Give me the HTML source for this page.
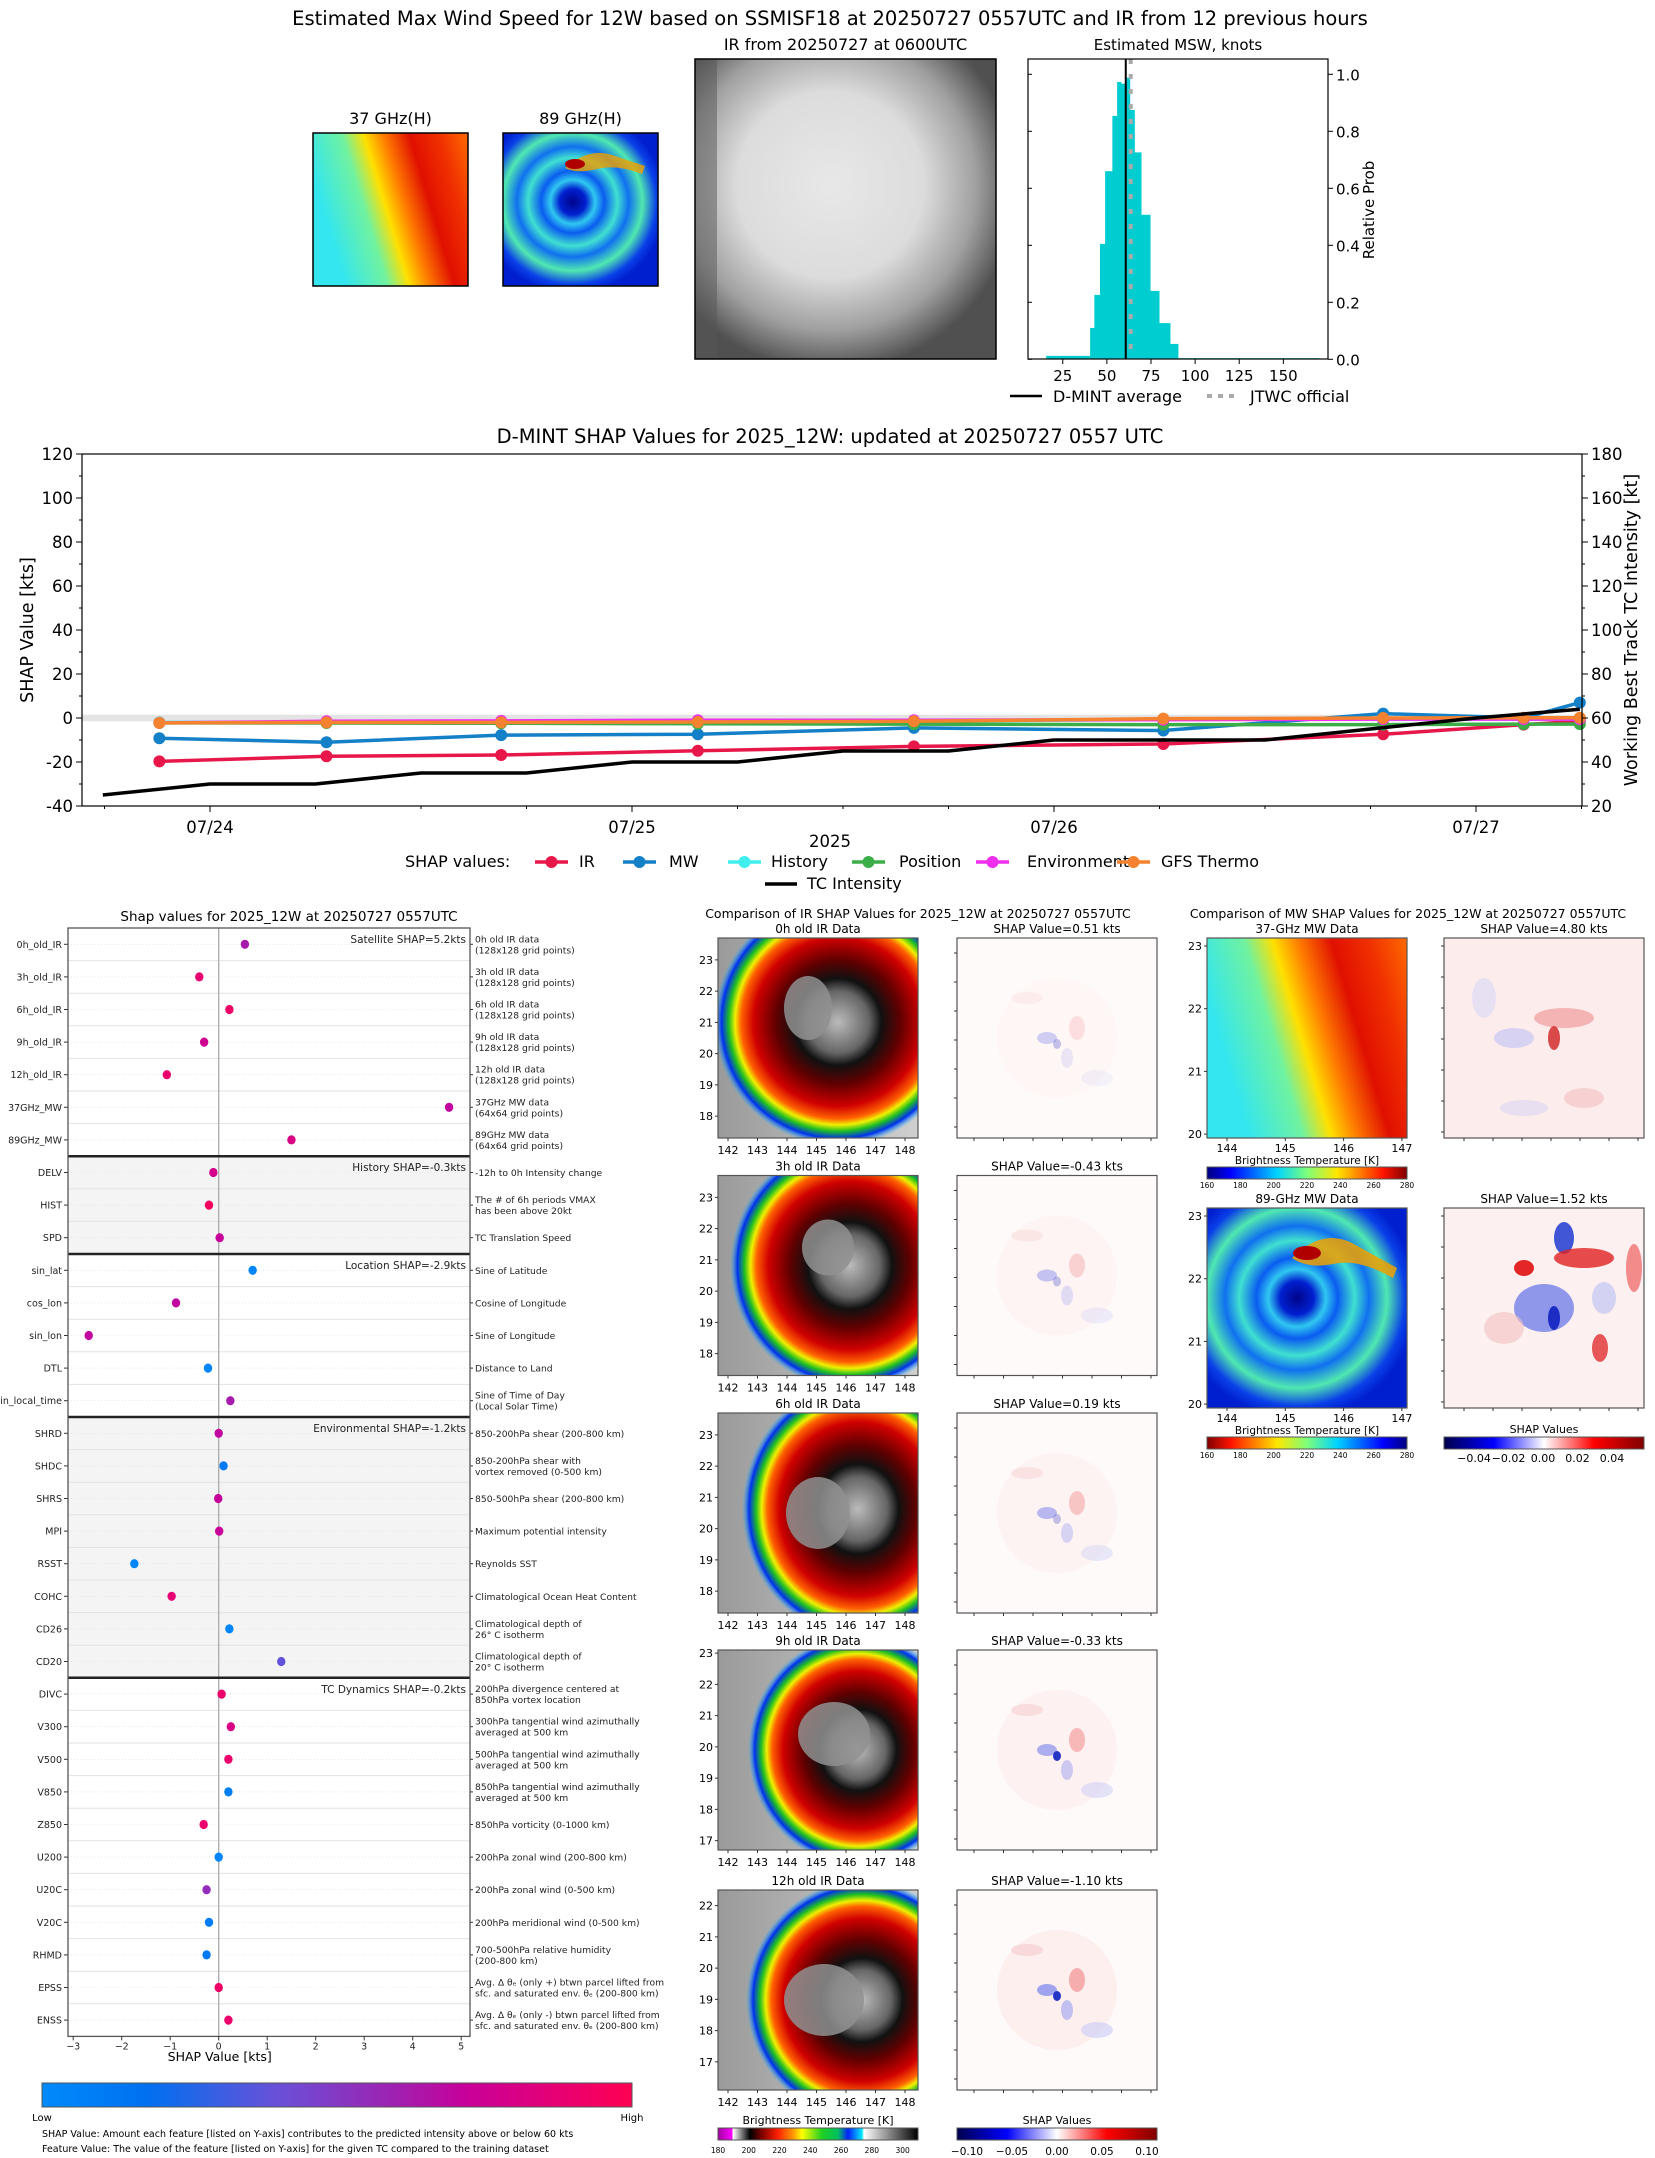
<!DOCTYPE html>
<html><head><meta charset="utf-8">
<style>
html,body{margin:0;padding:0;background:#fff;}
svg{display:block;font-family:"DejaVu Sans","Liberation Sans",sans-serif;}
</style></head>
<body>
<svg id="chart" xmlns="http://www.w3.org/2000/svg" width="1655" height="2158" viewBox="0 0 1655 2158">
<defs>
 <linearGradient id="g37" x1="0" y1="0.3" x2="1" y2="0">
  <stop offset="0" stop-color="#33e6f0"/><stop offset="0.25" stop-color="#70f2a0"/><stop offset="0.38" stop-color="#ffe000"/><stop offset="0.5" stop-color="#ff7a00"/><stop offset="0.65" stop-color="#e01000"/><stop offset="0.82" stop-color="#f03000"/><stop offset="1" stop-color="#ff6a00"/>
 </linearGradient>
 <radialGradient id="g89" cx="0.45" cy="0.45" r="0.6">
  <stop offset="0" stop-color="#00048a"/><stop offset="0.14" stop-color="#0020d0"/><stop offset="0.24" stop-color="#30c8f0"/><stop offset="0.34" stop-color="#0a5cf0"/><stop offset="0.48" stop-color="#40e0d0"/><stop offset="0.6" stop-color="#1070f0"/><stop offset="0.75" stop-color="#50e8b0"/><stop offset="0.9" stop-color="#0a40e8"/><stop offset="1" stop-color="#0020d0"/>
 </radialGradient>
 <radialGradient id="gTopIR" cx="0.45" cy="0.42" r="0.62">
  <stop offset="0" stop-color="#e8e8e8"/><stop offset="0.5" stop-color="#dcdcdc"/><stop offset="0.78" stop-color="#a0a0a0"/><stop offset="1" stop-color="#505050"/>
 </radialGradient>
 <radialGradient id="gIR" cx="0.5" cy="0.5" r="0.5">
  <stop offset="0" stop-color="#bbbbbb"/><stop offset="0.25" stop-color="#666"/><stop offset="0.35" stop-color="#111"/><stop offset="0.5" stop-color="#600000"/><stop offset="0.68" stop-color="#d00000"/><stop offset="0.78" stop-color="#ff6000"/><stop offset="0.83" stop-color="#f0f000"/><stop offset="0.88" stop-color="#20c020"/><stop offset="0.94" stop-color="#0030f0"/><stop offset="1" stop-color="#20c0ff" stop-opacity="0"/>
 </radialGradient>
 <linearGradient id="gGray" x1="0" y1="0" x2="1" y2="0">
  <stop offset="0" stop-color="#9a9a9a"/><stop offset="1" stop-color="#d0d0d0"/>
 </linearGradient>
 <linearGradient id="gJet" x1="0" y1="0" x2="1" y2="0">
  <stop offset="0" stop-color="#00007f"/><stop offset="0.12" stop-color="#0000ff"/><stop offset="0.35" stop-color="#00d4ff"/><stop offset="0.5" stop-color="#7dff7a"/><stop offset="0.65" stop-color="#ffe600"/><stop offset="0.88" stop-color="#ff1300"/><stop offset="1" stop-color="#7f0000"/>
 </linearGradient>
 <linearGradient id="gJetR" x1="1" y1="0" x2="0" y2="0">
  <stop offset="0" stop-color="#00007f"/><stop offset="0.12" stop-color="#0000ff"/><stop offset="0.35" stop-color="#00d4ff"/><stop offset="0.5" stop-color="#7dff7a"/><stop offset="0.65" stop-color="#ffe600"/><stop offset="0.88" stop-color="#ff1300"/><stop offset="1" stop-color="#7f0000"/>
 </linearGradient>
 <linearGradient id="gSeis" x1="0" y1="0" x2="1" y2="0">
  <stop offset="0" stop-color="#00004c"/><stop offset="0.25" stop-color="#0000ff"/><stop offset="0.5" stop-color="#ffffff"/><stop offset="0.75" stop-color="#ff0000"/><stop offset="1" stop-color="#800000"/>
 </linearGradient>
 <linearGradient id="gIRcb" x1="0" y1="0" x2="1" y2="0">
  <stop offset="0" stop-color="#a000a0"/><stop offset="0.07" stop-color="#ff00ff"/><stop offset="0.075" stop-color="#ffffff"/><stop offset="0.16" stop-color="#000"/><stop offset="0.22" stop-color="#800000"/><stop offset="0.3" stop-color="#ff2000"/><stop offset="0.38" stop-color="#ffa000"/><stop offset="0.42" stop-color="#ffff00"/><stop offset="0.52" stop-color="#20d020"/><stop offset="0.6" stop-color="#00c060"/><stop offset="0.65" stop-color="#0020ff"/><stop offset="0.72" stop-color="#00e8ff"/><stop offset="0.73" stop-color="#ffffff"/><stop offset="1" stop-color="#000"/>
 </linearGradient>
 <linearGradient id="gShapCb" x1="0" y1="0" x2="1" y2="0">
  <stop offset="0" stop-color="#008afb"/><stop offset="0.18" stop-color="#0070f0"/><stop offset="0.4" stop-color="#6a50d8"/><stop offset="0.6" stop-color="#a020b0"/><stop offset="0.72" stop-color="#c8009a"/><stop offset="1" stop-color="#ff0052"/>
 </linearGradient>
</defs>
</svg>
<script>
// ---------- data: top histogram ----------
const histEdges=[15.6,40.5,42.9,46.1,49,53.1,55.8,58,60.7,63,65.6,69.4,74.5,79.6,85.8,90.3,170.2];
const histProbs=[0.012,0.11,0.226,0.405,0.66,0.854,0.973,0.967,0.988,0.875,0.726,0.507,0.24,0.127,0.054,0.004];
const dmintAvg=60.7;
const jtwcOfficial=63.5;
const histXTicks=[25,50,75,100,125,150];
const histYTicks=[0,0.2,0.4,0.6,0.8,1.0];
// ---------- data: SHAP time series ----------
const tsDays=[-0.12,0.276,0.69,1.156,1.668,2.259,2.78,3.113,3.246];
const irVals=[-19.7,-17.4,-16.8,-14.9,-12.9,-11.8,-7.4,-3.0,-1.5];
const mwVals=[-9.2,-11,-7.8,-7.4,-4.5,-5.7,2,0,7];
const historyVals=[-2,-2,-2,-2,-1.5,-0.6,-0.5,-0.5,-0.5];
const positionVals=[-2.2,-2.3,-2.4,-2.6,-2.8,-3,-3,-2.8,-2.8];
const environmentVals=[-2.2,-1.5,-1.3,-1,-1,-0.8,-0.5,-0.5,-0.5];
const gfsVals=[-2.2,-2,-2,-1.8,-1.5,-0.3,0,0.1,0.1];
const tcDays=[-0.254,0,0.25,0.5,0.75,1,1.25,1.5,1.75,2,2.25,2.5,2.75,3,3.246];
const tcVals=[25,30,30,35,35,40,40,45,45,50,50,50,55,60,64];
const leftTicks=[-40,-20,0,20,40,60,80,100,120];
const rightTicks=[20,40,60,80,100,120,140,160,180];
const dateLabels=['07/24','07/25','07/26','07/27'];
// ---------- data: SHAP beeswarm ----------
const featNames=['0h_old_IR','3h_old_IR','6h_old_IR','9h_old_IR','12h_old_IR','37GHz_MW','89GHz_MW','DELV','HIST','SPD','sin_lat','cos_lon','sin_lon','DTL','sin_local_time','SHRD','SHDC','SHRS','MPI','RSST','COHC','CD26','CD20','DIVC','V300','V500','V850','Z850','U200','U20C','V20C','RHMD','EPSS','ENSS'];
const featShap=[0.54,-0.4,0.22,-0.3,-1.07,4.75,1.5,-0.11,-0.2,0.02,0.7,-0.88,-2.68,-0.22,0.24,0,0.1,-0.01,0.01,-1.74,-0.97,0.22,1.29,0.06,0.25,0.2,0.2,-0.31,0,-0.25,-0.2,-0.25,0,0.2];
const featValue=[0.62,0.88,0.92,0.75,0.9,0.7,0.8,0.78,0.95,0.72,0.03,0.7,0.7,0.03,0.62,0.7,0.12,0.72,0.72,0.03,0.88,0.03,0.38,0.9,0.8,0.9,0.08,0.9,0.03,0.55,0.1,0.12,0.92,0.9];
const featDesc=['0h old IR data\n(128x128 grid points)','3h old IR data\n(128x128 grid points)','6h old IR data\n(128x128 grid points)','9h old IR data\n(128x128 grid points)','12h old IR data\n(128x128 grid points)','37GHz MW data\n(64x64 grid points)','89GHz MW data\n(64x64 grid points)','-12h to 0h Intensity change','The # of 6h periods VMAX\nhas been above 20kt','TC Translation Speed','Sine of Latitude','Cosine of Longitude','Sine of Longitude','Distance to Land','Sine of Time of Day\n(Local Solar Time)','850-200hPa shear (200-800 km)','850-200hPa shear with\nvortex removed (0-500 km)','850-500hPa shear (200-800 km)','Maximum potential intensity','Reynolds SST','Climatological Ocean Heat Content','Climatological depth of\n26° C isotherm','Climatological depth of\n20° C isotherm','200hPa divergence centered at\n850hPa vortex location','300hPa tangential wind azimuthally\naveraged at 500 km','500hPa tangential wind azimuthally\naveraged at 500 km','850hPa tangential wind azimuthally\naveraged at 500 km','850hPa vorticity (0-1000 km)','200hPa zonal wind (200-800 km)','200hPa zonal wind (0-500 km)','200hPa meridional wind (0-500 km)','700-500hPa relative humidity\n(200-800 km)','Avg. Δ θₑ (only +) btwn parcel lifted from\nsfc. and saturated env. θₑ (200-800 km)','Avg. Δ θₑ (only -) btwn parcel lifted from\nsfc. and saturated env. θₑ (200-800 km)'];
const groupLabels=['Satellite SHAP=5.2kts','History SHAP=-0.3kts','Location SHAP=-2.9kts','Environmental SHAP=-1.2kts','TC Dynamics SHAP=-0.2kts'];
const groupStarts=[0,7,10,15,23];
const beeXTicks=[-3,-2,-1,0,1,2,3,4,5];
// ---------- data: image panels ----------
const irTitles=['0h old IR Data','3h old IR Data','6h old IR Data','9h old IR Data','12h old IR Data'];
const irShapTitles=['SHAP Value=0.51 kts','SHAP Value=-0.43 kts','SHAP Value=0.19 kts','SHAP Value=-0.33 kts','SHAP Value=-1.10 kts'];
const irLatTop=[23.7,23.7,23.7,23.1,22.5];
const irLatBottom=[17.3,17.3,17.3,16.7,16.1];
const irLatTicks=[[18,19,20,21,22,23],[18,19,20,21,22,23],[18,19,20,21,22,23],[17,18,19,20,21,22,23],[17,18,19,20,21,22]];
const irLonTicks=[142,143,144,145,146,147,148];
const mwTitles=['37-GHz MW Data','89-GHz MW Data'];
const mwShapTitles=['SHAP Value=4.80 kts','SHAP Value=1.52 kts'];
const mwLatTicks=[20,21,22,23];
const mwLonTicks=[144,145,146,147];
const btTicks=[160,180,200,220,240,260,280];
const irBtTicks=[180,200,220,240,260,280,300];
const shapMwTicks=['−0.04','−0.02','0.00','0.02','0.04'];
const shapIrTicks=['−0.10','−0.05','0.00','0.05','0.10'];

const NS='http://www.w3.org/2000/svg';
const svg=document.getElementById('chart');
function mk(tag,attrs,parent){const e=document.createElementNS(NS,tag);for(const k in attrs)e.setAttribute(k,attrs[k]);(parent||svg).appendChild(e);return e;}
function txt(s,attrs,parent){const e=mk('text',attrs,parent);e.textContent=s;return e;}
function grp(parent){return mk('g',{},parent);}

// ===== Main title =====
let t=txt('Estimated Max Wind Speed for 12W based on SSMISF18 at 20250727 0557UTC and IR from 12 previous hours',{x:830,y:25,'font-size':19.5,'text-anchor':'middle',fill:'#000'});



// ===== Top small panels =====
function topPanel(x,y,w,h,fill,title,name){
  const g=grp();
  
  
  txt(title,{x:x+w/2,y:y-9,'font-size':16,'text-anchor':'middle'},g);
  mk('rect',{x:x,y:y,width:w,height:h,fill:fill},g);
  return g;
}
let g37=topPanel(313,133,155,153,'url(#g37)','37 GHz(H)','panel-37ghz');
mk('rect',{x:313,y:133,width:155,height:153,fill:'none',stroke:'#000','stroke-width':1.5},g37);
let g89=topPanel(503,133,155,153,'url(#g89)','89 GHz(H)','panel-89ghz');
mk('path',{d:'M 565 168 q 25 -22 50 -12 l 30 10 l -3 8 q -25 -10 -45 -5 q -20 5 -32 -1 z',fill:'#f0a000',opacity:0.8},g89);
mk('ellipse',{cx:575,cy:164,rx:10,ry:5,fill:'#b00000'},g89);
mk('rect',{x:503,y:133,width:155,height:153,fill:'none',stroke:'#000','stroke-width':1.5},g89);
let gTop=topPanel(695,59,301,300,'url(#gTopIR)','IR from 20250727 at 0600UTC','panel-ir-current');
mk('rect',{x:695,y:59,width:22,height:300,fill:'#555',opacity:0.5},gTop);
mk('rect',{x:695,y:59,width:301,height:300,fill:'none',stroke:'#000','stroke-width':1.5},gTop);

// ===== Histogram =====
(function(){
  const L=1028,R=1328,T=59,B=359,xmin=5.3,xmax=175.3;
  const xs=k=>L+(k-xmin)/(xmax-xmin)*(R-L);
  const ys=p=>359.3-p*(359.3-74.3);
  const g=grp();
  
  
  txt('Estimated MSW, knots',{x:(L+R)/2,y:50,'font-size':15,'text-anchor':'middle'},g);
  for(let i=0;i<histProbs.length;i++){
    const b=mk('rect',{x:xs(histEdges[i]),y:ys(histProbs[i]),width:xs(histEdges[i+1])-xs(histEdges[i])+0.4,height:ys(0)-ys(histProbs[i]),fill:'#00cdd0'},g);
    
    
  }
  let l=mk('line',{x1:xs(dmintAvg),x2:xs(dmintAvg),y1:T,y2:B,stroke:'#000','stroke-width':2},g);
  
  
  l=mk('line',{x1:xs(jtwcOfficial),x2:xs(jtwcOfficial),y1:T,y2:B,stroke:'#aaa','stroke-width':4,'stroke-dasharray':'5 10'},g);
  
  
  mk('rect',{x:L,y:T,width:R-L,height:B-T,fill:'none',stroke:'#000','stroke-width':1.2},g);
  histXTicks.forEach(v=>{mk('line',{x1:xs(v),x2:xs(v),y1:B,y2:B+5,stroke:'#000'},g);txt(v,{x:xs(v),y:B+22,'font-size':15,'text-anchor':'middle'},g);});
  histYTicks.forEach(v=>{mk('line',{x1:R,x2:R+5,y1:ys(v),y2:ys(v),stroke:'#000'},g);mk('line',{x1:L,x2:L+4,y1:ys(v),y2:ys(v),stroke:'#000'},g);txt(v.toFixed(1),{x:R+8,y:ys(v)+6,'font-size':15},g);});
  txt('Relative Prob',{x:0,y:0,'font-size':15,'text-anchor':'middle',transform:'translate(1374 210) rotate(-90)'},g);
  const lg=grp(g);
  
  
  mk('line',{x1:1010,x2:1042,y1:396,y2:396,stroke:'#000','stroke-width':2.5},lg);
  txt('D-MINT average',{x:1053,y:402,'font-size':16},lg);
  mk('line',{x1:1207,x2:1239,y1:396,y2:396,stroke:'#aaa','stroke-width':4,'stroke-dasharray':'5 6'},lg);
  txt('JTWC official',{x:1250,y:402,'font-size':16},lg);
})();

// ===== SHAP time series =====
(function(){
  const L=82,R=1582,T=454,B=806;
  const xs=d=>210+d*422;
  const yl=v=>B-(v+40)/160*(B-T);
  const yr=k=>B-(k-20)/160*(B-T);
  const g=grp();
  
  
  txt('D-MINT SHAP Values for 2025_12W: updated at 20250727 0557 UTC',{x:830,y:443,'font-size':19.5,'text-anchor':'middle'},g);
  const band=mk('rect',{x:L,y:yl(1.5),width:R-L,height:yl(-1.5)-yl(1.5),fill:'#e4e4e4'},g);
  
  
  const series=[[irVals,'#e8174a','IR'],[mwVals,'#1380c8','MW'],[historyVals,'#40eeee','History'],[positionVals,'#3cae48','Position'],[environmentVals,'#ee30ee','Environment'],[gfsVals,'#f5822e','GFS Thermo']];
  series.forEach(s=>{
    const sg=grp(g);
    
    
    mk('polyline',{points:tsDays.map((d,i)=>xs(d)+','+yl(s[0][i])).join(' '),fill:'none',stroke:s[1],'stroke-width':3.5,'stroke-linejoin':'round'},sg);
    tsDays.forEach((d,i)=>{const c=mk('circle',{cx:xs(d),cy:yl(s[0][i]),r:6,fill:s[1]},sg);});
  });
  const tc=mk('polyline',{points:tcDays.map((d,i)=>xs(d)+','+yr(tcVals[i])).join(' '),fill:'none',stroke:'#000','stroke-width':3.5},g);
  
  
  mk('rect',{x:L,y:T,width:R-L,height:B-T,fill:'none',stroke:'#000','stroke-width':1.2},g);
  leftTicks.forEach(v=>{mk('line',{x1:L-6,x2:L,y1:yl(v),y2:yl(v),stroke:'#000'},g);txt(v,{x:L-9,y:yl(v)+6,'font-size':16.5,'text-anchor':'end'},g);});
  for(let v=-30;v<=110;v+=20)mk('line',{x1:L-3,x2:L,y1:yl(v),y2:yl(v),stroke:'#000'},g);
  rightTicks.forEach(v=>{mk('line',{x1:R,x2:R+6,y1:yr(v),y2:yr(v),stroke:'#000'},g);txt(v,{x:R+9,y:yr(v)+6,'font-size':16.5},g);});
  for(let v=30;v<=170;v+=20)mk('line',{x1:R,x2:R+3,y1:yr(v),y2:yr(v),stroke:'#000'},g);
  dateLabels.forEach((s,i)=>{mk('line',{x1:xs(i),x2:xs(i),y1:B,y2:B+6,stroke:'#000'},g);txt(s,{x:xs(i),y:B+27,'font-size':16.5,'text-anchor':'middle'},g);});
  for(let d=-0.25;d<3.3;d+=0.25)if(xs(d)>L&&xs(d)<R)mk('line',{x1:xs(d),x2:xs(d),y1:B,y2:B+3,stroke:'#000'},g);
  txt('2025',{x:830,y:847,'font-size':16.5,'text-anchor':'middle'},g);
  txt('SHAP Value [kts]',{x:0,y:0,'font-size':17.5,'text-anchor':'middle',transform:'translate(33 630) rotate(-90)'},g);
  txt('Working Best Track TC Intensity [kt]',{x:0,y:0,'font-size':17.5,'text-anchor':'middle',transform:'translate(1637 630) rotate(-90)'},g);
  const lg=grp(g);
  
  
  txt('SHAP values:',{x:405,y:867,'font-size':16},lg);
  const lx=[[535,579],[623,669],[728,771],[852,899],[976,1027],[1117,1161]];
  series.forEach((s,i)=>{
    mk('line',{x1:lx[i][0],x2:lx[i][0]+33,y1:862,y2:862,stroke:s[1],'stroke-width':3.5},lg);
    mk('circle',{cx:lx[i][0]+16.5,cy:862,r:6,fill:s[1]},lg);
    txt(s[2],{x:lx[i][1],y:867,'font-size':16},lg);
  });
  mk('line',{x1:765,x2:797,y1:884,y2:884,stroke:'#000','stroke-width':3.5},lg);
  txt('TC Intensity',{x:807,y:889,'font-size':16},lg);
})();

// ===== SHAP beeswarm =====
(function(){
  const L=68,R=470,T=928,rowH=32.6,B=T+rowH*featNames.length;
  const xs=v=>218.7+v*48.5;
  const yc=i=>T+rowH*(i+0.5);
  const g=grp();
  
  
  txt('Shap values for 2025_12W at 20250727 0557UTC',{x:(L+R)/2+20,y:921,'font-size':13.5,'text-anchor':'middle'},g);
  groupStarts.forEach((s,gi)=>{
    const e=gi+1<groupStarts.length?groupStarts[gi+1]:featNames.length;
    if(gi%2===1)mk('rect',{x:L,y:T+s*rowH,width:R-L,height:(e-s)*rowH,fill:'#f4f4f4'},g);
    const gl=txt(groupLabels[gi],{x:R-4,y:T+s*rowH+15,'font-size':10.5,'text-anchor':'end',fill:'#222'},g);
    
    
  });
  for(let i=1;i<featNames.length;i++)mk('line',{x1:L,x2:R,y1:T+i*rowH,y2:T+i*rowH,stroke:'#e2e2e2','stroke-width':1},g);
  featNames.forEach((n,i)=>mk('line',{x1:L,x2:R,y1:yc(i),y2:yc(i),stroke:'#ddd','stroke-width':0.6,'stroke-dasharray':'1 2'},g));
  mk('line',{x1:xs(0),x2:xs(0),y1:T,y2:B,stroke:'#aaa','stroke-width':1.3},g);
  groupStarts.slice(1).forEach(s=>mk('line',{x1:L,x2:R,y1:T+s*rowH,y2:T+s*rowH,stroke:'#222','stroke-width':2.5},g));
  function col(f){const st=[[0,[0,138,251]],[0.18,[0,112,240]],[0.4,[106,80,216]],[0.6,[160,32,176]],[0.72,[200,0,154]],[1,[255,0,82]]];
    for(let k=1;k<st.length;k++)if(f<=st[k][0]){const a=st[k-1],b=st[k],u=(f-a[0])/(b[0]-a[0]);return 'rgb('+a[1].map((c,j)=>Math.round(c+(b[1][j]-c)*u)).join(',')+')';}return 'rgb(255,0,82)';}
  featNames.forEach((n,i)=>{
    const d=mk('ellipse',{cx:xs(featShap[i]),cy:yc(i),rx:4.2,ry:4.6,fill:col(featValue[i])},g);
    
    
    mk('line',{x1:L-4,x2:L,y1:yc(i),y2:yc(i),stroke:'#333'},g);
    txt(n,{x:L-6,y:yc(i)+3.5,'font-size':9.5,'text-anchor':'end',fill:'#222'},g);
    mk('line',{x1:R,x2:R+3,y1:yc(i),y2:yc(i),stroke:'#333'},g);
    const lines=featDesc[i].split('\n');
    lines.forEach((s,k)=>txt(s,{x:R+5,y:yc(i)+3.5+(k-(lines.length-1)/2)*11,'font-size':9.2,fill:'#222'},g));
  });
  mk('rect',{x:L,y:T,width:R-L,height:B-T,fill:'none',stroke:'#555','stroke-width':1.3},g);
  beeXTicks.forEach(v=>{mk('line',{x1:xs(v),x2:xs(v),y1:B,y2:B+4,stroke:'#333'},g);txt(v<0?'−'+(-v):v,{x:xs(v),y:B+13,'font-size':9.5,'text-anchor':'middle',fill:'#222'},g);});
  txt('SHAP Value [kts]',{x:xs(0)+1,y:2061,'font-size':12.5,'text-anchor':'middle'},g);
  const cb=mk('rect',{x:42,y:2083,width:590,height:24,fill:'url(#gShapCb)',stroke:'#555'},g);
  
  
  txt('Low',{x:42,y:2121,'font-size':10,'text-anchor':'middle'},g);
  txt('High',{x:632,y:2121,'font-size':10,'text-anchor':'middle'},g);
  txt('SHAP Value: Amount each feature [listed on Y-axis] contributes to the predicted intensity above or below 60 kts',{x:42,y:2137,'font-size':9.5},g);
  txt('Feature Value: The value of the feature [listed on Y-axis] for the given TC compared to the training dataset',{x:42,y:2152,'font-size':9.5},g);
})();

// ===== IR panels =====
function blobs(g,x,y,w,h,list){list.forEach(b=>mk('ellipse',{cx:x+b[0]*w,cy:y+b[1]*h,rx:b[2]*w,ry:b[3]*h,fill:b[4],opacity:b[5]},g));}
const irCenters=[[0.6,0.42,0.62,0.62],[0.66,0.45,0.6,0.62],[0.7,0.48,0.58,0.64],[0.7,0.5,0.55,0.58],[0.72,0.55,0.58,0.6]];
const irEyes=[[0.45,0.35,0.12,0.16],[0.55,0.36,0.13,0.14],[0.5,0.5,0.16,0.18],[0.58,0.42,0.18,0.16],[0.53,0.55,0.2,0.18]];
txt('Comparison of IR SHAP Values for 2025_12W at 20250727 0557UTC',{x:918,y:918,'font-size':12.5,'text-anchor':'middle'});
const irTops=[938,1175.5,1413,1650,1890];
irTitles.forEach((tt,r)=>{
  const x=718,y=irTops[r],w=200,h=200;
  const g=grp();
  
  
  const cp=mk('clipPath',{id:'cpir'+r},g);mk('rect',{x:x,y:y,width:w,height:h},cp);
  const ig=mk('g',{'clip-path':'url(#cpir'+r+')'},g);
  mk('rect',{x:x,y:y,width:w,height:h,fill:'url(#gGray)'},ig);
  const c=irCenters[r];
  mk('ellipse',{cx:x+c[0]*w,cy:y+c[1]*h,rx:c[2]*w,ry:c[3]*h,fill:'url(#gIR)'},ig);
  const e=irEyes[r];
  mk('ellipse',{cx:x+e[0]*w,cy:y+e[1]*h,rx:e[2]*w,ry:e[3]*h,fill:'#909090',opacity:0.85},ig);
  mk('rect',{x:x,y:y,width:w,height:h,fill:'none',stroke:'#555','stroke-width':1.2},g);
  txt(tt,{x:x+w/2,y:y-5,'font-size':12,'text-anchor':'middle'},g);
  const ly=v=>y+(irLatTop[r]-v)/(irLatTop[r]-irLatBottom[r])*h;
  irLatTicks[r].forEach(v=>{mk('line',{x1:x-3,x2:x,y1:ly(v),y2:ly(v),stroke:'#333'},g);txt(v,{x:x-5,y:ly(v)+4,'font-size':11,'text-anchor':'end'},g);});
  const lx=v=>x+10+(v-142)*29.5;
  irLonTicks.forEach(v=>{mk('line',{x1:lx(v),x2:lx(v),y1:y+h,y2:y+h+3,stroke:'#333'},g);txt(v,{x:lx(v),y:y+h+16,'font-size':11,'text-anchor':'middle'},g);});
  const sx=957,sw=200;
  const sg=grp();
  
  
  mk('rect',{x:sx,y:y,width:sw,height:h,fill:'#fffafa'},sg);
  const a=0.2+r*0.1;
  blobs(sg,sx,y,sw,h,[[0.5,0.5,0.3,0.3,'#fde8e8',a],[0.45,0.5,0.05,0.03,'#8890ee',a+0.2],[0.6,0.45,0.04,0.06,'#f08080',a],[0.55,0.6,0.03,0.05,'#9aa0f0',a],[0.35,0.3,0.08,0.03,'#f4c8c8',a],[0.7,0.7,0.08,0.04,'#c8ccf6',a]]);
  mk('ellipse',{cx:sx+0.5*sw,cy:y+0.53*h,rx:4,ry:5,fill:'#1020c0',opacity:r>=3?0.9:0.25},sg);
  mk('rect',{x:sx,y:y,width:sw,height:h,fill:'none',stroke:'#555','stroke-width':1.2},sg);
  txt(irShapTitles[r],{x:sx+sw/2,y:y-5,'font-size':12,'text-anchor':'middle'},sg);
  for(let k=0;k<7;k++){mk('line',{x1:sx+17+k*29.5,x2:sx+17+k*29.5,y1:y+h,y2:y+h+3,stroke:'#333'},sg);mk('line',{x1:sx-3,x2:sx,y1:y+15+k*29,y2:y+15+k*29,stroke:'#333'},sg);}
});
(function(){
  const g=grp();
  
  
  txt('Brightness Temperature [K]',{x:818,y:2124,'font-size':11,'text-anchor':'middle'},g);
  mk('rect',{x:718,y:2128,width:200,height:12,fill:'url(#gIRcb)',stroke:'#555'},g);
  irBtTicks.forEach((v,i)=>txt(v,{x:718+(v-180)/130*200,y:2153,'font-size':7.5,'text-anchor':'middle'},g));
  txt('SHAP Values',{x:1057,y:2124,'font-size':11,'text-anchor':'middle'},g);
  mk('rect',{x:957,y:2128,width:200,height:12,fill:'url(#gSeis)',stroke:'#555'},g);
  shapIrTicks.forEach((s,i)=>txt(s,{x:967+i*45,y:2155,'font-size':10.5,'text-anchor':'middle'},g));
})();

// ===== MW panels =====
txt('Comparison of MW SHAP Values for 2025_12W at 20250727 0557UTC',{x:1408,y:918,'font-size':12.5,'text-anchor':'middle'});
const mwTops=[938,1208];
mwTitles.forEach((tt,r)=>{
  const x=1207,y=mwTops[r],w=200,h=200;
  const g=grp();
  
  
  mk('rect',{x:x,y:y,width:w,height:h,fill:r===0?'url(#g37)':'url(#g89)'},g);
  if(r===1){mk('path',{d:`M ${x+85} ${y+50} q 30 -30 60 -15 l 45 25 l -4 10 q -35 -20 -60 -14 q -25 5 -41 -6 z`,fill:'#f0a000',opacity:0.85},g);mk('ellipse',{cx:x+100,cy:y+45,rx:14,ry:7,fill:'#b00000'},g);}
  mk('rect',{x:x,y:y,width:w,height:h,fill:'none',stroke:'#555','stroke-width':1.2},g);
  txt(tt,{x:x+w/2,y:y-5,'font-size':12,'text-anchor':'middle'},g);
  const ly=v=>y+8+(23-v)*62.7;
  mwLatTicks.forEach(v=>{mk('line',{x1:x-3,x2:x,y1:ly(v),y2:ly(v),stroke:'#333'},g);txt(v,{x:x-5,y:ly(v)+4,'font-size':11,'text-anchor':'end'},g);});
  const lx=v=>x+20+(v-144)*58.3;
  mwLonTicks.forEach(v=>{mk('line',{x1:lx(v),x2:lx(v),y1:y+h,y2:y+h+3,stroke:'#333'},g);txt(v,{x:lx(v),y:y+h+14,'font-size':11,'text-anchor':'middle'},g);});
  txt('Brightness Temperature [K]',{x:x+w/2,y:y+h+26,'font-size':10.5,'text-anchor':'middle'},g);
  mk('rect',{x:x,y:y+h+29,width:w,height:12,fill:r===0?'url(#gJet)':'url(#gJetR)',stroke:'#555'},g);
  btTicks.forEach(v=>txt(v,{x:x+(v-160)/120*w,y:y+h+50,'font-size':7.5,'text-anchor':'middle'},g));
  const sx=1444,sg=grp();
  
  
  mk('rect',{x:sx,y:y,width:w,height:h,fill:r===0?'#fcecec':'#fdf0f0'},sg);
  if(r===0)blobs(sg,sx,y,w,h,[[0.6,0.4,0.15,0.05,'#f09090',0.6],[0.55,0.5,0.03,0.06,'#d02020',0.8],[0.35,0.5,0.1,0.05,'#c8c8f4',0.7],[0.2,0.3,0.06,0.1,'#d8d8f6',0.6],[0.7,0.8,0.1,0.05,'#f4c0c0',0.6],[0.4,0.85,0.12,0.04,'#d4d4f6',0.5]]);
  else blobs(sg,sx,y,w,h,[[0.5,0.5,0.15,0.12,'#6070e8',0.7],[0.6,0.15,0.05,0.08,'#1030d0',0.8],[0.7,0.25,0.15,0.05,'#e02020',0.8],[0.4,0.3,0.05,0.04,'#e01010',0.9],[0.55,0.55,0.03,0.06,'#1020c0',0.9],[0.78,0.7,0.04,0.07,'#e03030',0.8],[0.95,0.3,0.04,0.12,'#f06060',0.7],[0.3,0.6,0.1,0.08,'#f4c0c0',0.6],[0.8,0.45,0.06,0.08,'#c0c4f4',0.7]]);
  mk('rect',{x:sx,y:y,width:w,height:h,fill:'none',stroke:'#555','stroke-width':1.2},sg);
  txt(mwShapTitles[r],{x:sx+w/2,y:y-5,'font-size':12,'text-anchor':'middle'},sg);
  for(let k=0;k<7;k++){mk('line',{x1:sx+20+k*29,x2:sx+20+k*29,y1:y+h,y2:y+h+3,stroke:'#333'},sg);mk('line',{x1:sx-3,x2:sx,y1:y+8+k*31,y2:y+8+k*31,stroke:'#333'},sg);}
});
(function(){
  const g=grp();
  
  
  txt('SHAP Values',{x:1544,y:1433,'font-size':11,'text-anchor':'middle'},g);
  mk('rect',{x:1444,y:1437,width:200,height:12,fill:'url(#gSeis)',stroke:'#555'},g);
  shapMwTicks.forEach((s,i)=>txt(s,{x:1474+i*34.5,y:1462,'font-size':11,'text-anchor':'middle'},g));
})();
</script>
</body></html>
